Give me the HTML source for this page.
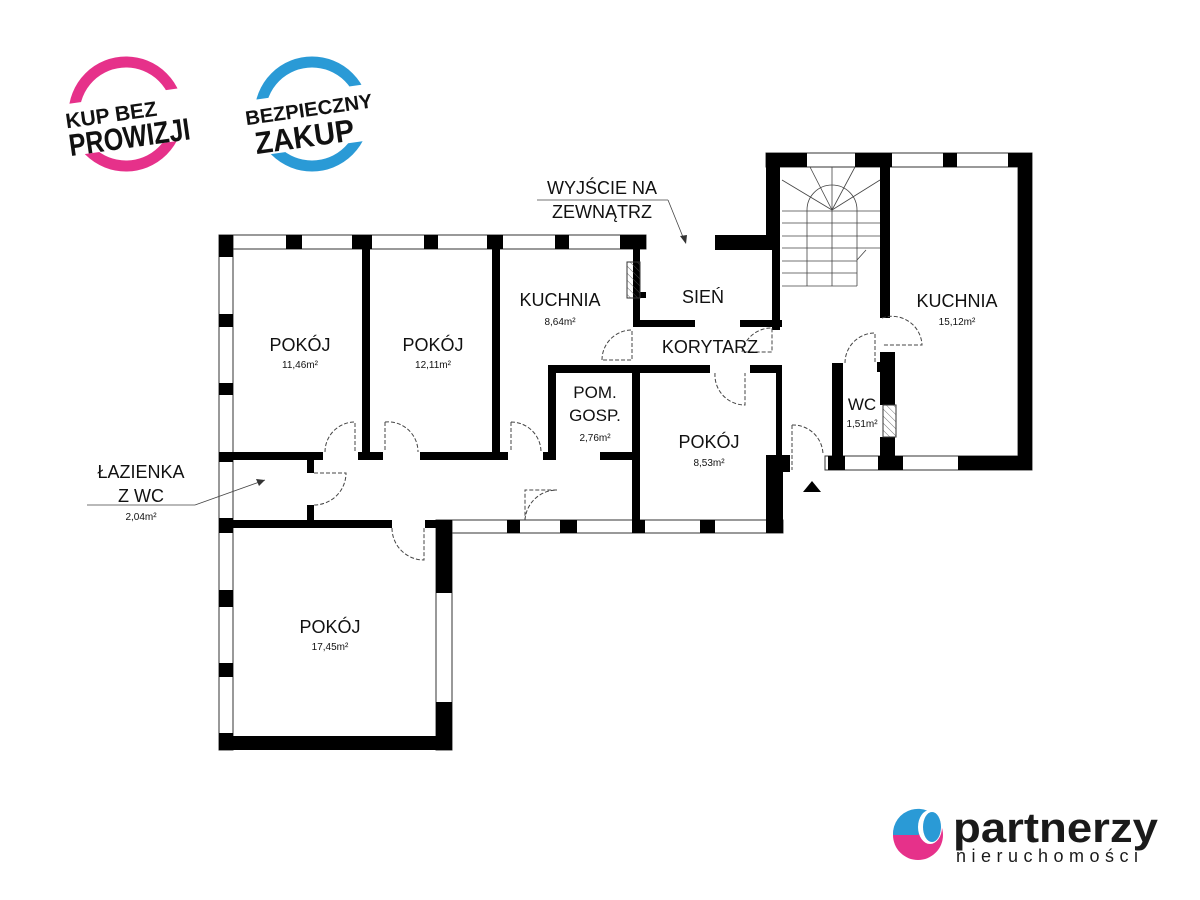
<!DOCTYPE html>
<html><head><meta charset="utf-8"><style>
html,body{margin:0;padding:0;background:#fff;width:1200px;height:900px;overflow:hidden}
text{font-family:"Liberation Sans",sans-serif;fill:#111}
</style></head><body>
<svg width="1200" height="900" viewBox="0 0 1200 900" xmlns="http://www.w3.org/2000/svg">
<defs><pattern id="h" width="5" height="5" patternUnits="userSpaceOnUse" patternTransform="rotate(-45)"><line x1="0" y1="0" x2="0" y2="5" stroke="#555" stroke-width="0.8"/></pattern></defs>
<!-- logos -->
<circle cx="126" cy="114" r="52" fill="none" stroke="#e6318a" stroke-width="11"/>
<rect x="62" y="96" width="130" height="52" fill="#fff" transform="rotate(-8 126 120)"/>
<g transform="rotate(-8 126 120)"><text x="66" y="120" font-size="21" font-weight="bold" textLength="92" lengthAdjust="spacingAndGlyphs" style="fill:#111">KUP BEZ</text><text x="66" y="148" font-size="31" font-weight="bold" textLength="122" lengthAdjust="spacingAndGlyphs" style="fill:#111">PROWIZJI</text></g>
<circle cx="312" cy="114" r="52" fill="none" stroke="#2a9ad6" stroke-width="11"/>
<rect x="244" y="92" width="136" height="56" fill="#fff" transform="rotate(-8 312 118)"/>
<g transform="rotate(-8 312 118)"><text x="246" y="116" font-size="20" font-weight="bold" textLength="128" lengthAdjust="spacingAndGlyphs" style="fill:#111">BEZPIECZNY</text><text x="252" y="146" font-size="31" font-weight="bold" textLength="100" lengthAdjust="spacingAndGlyphs" style="fill:#111">ZAKUP</text></g>

<!-- window/thin outlines -->
<g fill="none" stroke="#333" stroke-width="1">
<rect x="219" y="235" width="427" height="14"/>
<rect x="219" y="235" width="14" height="515"/>
<rect x="436" y="520" width="16" height="230"/>
<rect x="452" y="520" width="331" height="13"/>
<rect x="766" y="153" width="266" height="14"/>
<rect x="1018" y="153" width="14" height="317"/>
<rect x="825" y="456" width="207" height="14"/>
</g>
<g fill="#000">
<rect x="219" y="235" width="14" height="14"/><rect x="286" y="235" width="16" height="14"/><rect x="352" y="235" width="20" height="14"/><rect x="424" y="235" width="14" height="14"/><rect x="487" y="235" width="16" height="14"/><rect x="555" y="235" width="14" height="14"/><rect x="620" y="235" width="26" height="14"/>
<rect x="219" y="235" width="14" height="22"/><rect x="219" y="314" width="14" height="13"/><rect x="219" y="383" width="14" height="12"/><rect x="219" y="452" width="14" height="10"/><rect x="219" y="518" width="14" height="15"/><rect x="219" y="590" width="14" height="17"/><rect x="219" y="663" width="14" height="14"/><rect x="219" y="733" width="14" height="17"/>
<rect x="219" y="736" width="233" height="14"/>
<rect x="436" y="520" width="16" height="73"/><rect x="436" y="702" width="16" height="48"/>
<rect x="233" y="520" width="159" height="8"/><rect x="425" y="520" width="27" height="8"/><rect x="437" y="520" width="15" height="15"/>
<rect x="437" y="520" width="15" height="13"/><rect x="507" y="520" width="13" height="13"/><rect x="560" y="520" width="17" height="13"/><rect x="632" y="520" width="13" height="13"/><rect x="700" y="520" width="15" height="13"/><rect x="766" y="455" width="17" height="78"/>
<rect x="776" y="365" width="6" height="95"/><rect x="783" y="455" width="7" height="17"/>
<rect x="233" y="452" width="90" height="8"/><rect x="358" y="452" width="25" height="8"/><rect x="420" y="452" width="88" height="8"/><rect x="543" y="452" width="12" height="8"/><rect x="600" y="452" width="33" height="8"/>
<rect x="362" y="249" width="8" height="211"/><rect x="492" y="249" width="8" height="211"/>
<rect x="307" y="460" width="7" height="13"/><rect x="307" y="505" width="7" height="15"/>
<rect x="633" y="249" width="7" height="76"/><rect x="640" y="292" width="6" height="6"/>
<rect x="633" y="320" width="62" height="7"/><rect x="740" y="320" width="42" height="7"/>
<rect x="715" y="235" width="60" height="15"/><rect x="772" y="235" width="8" height="95"/>
<rect x="548" y="365" width="162" height="8"/><rect x="750" y="365" width="32" height="8"/>
<rect x="548" y="365" width="8" height="95"/><rect x="632" y="365" width="8" height="160"/>
<rect x="766" y="153" width="14" height="97"/><rect x="766" y="153" width="41" height="14"/><rect x="855" y="153" width="37" height="14"/><rect x="943" y="153" width="14" height="14"/><rect x="1008" y="153" width="24" height="14"/>
<rect x="1018" y="153" width="14" height="317"/>
<rect x="958" y="456" width="74" height="14"/><rect x="878" y="456" width="25" height="14"/><rect x="828" y="456" width="17" height="14"/>
<rect x="880" y="167" width="10" height="151"/>
<rect x="880" y="352" width="15" height="53"/><rect x="880" y="437" width="15" height="33"/><rect x="877" y="362" width="8" height="10"/>
<rect x="832" y="363" width="11" height="107"/>
</g>
<rect x="627" y="262" width="13" height="36" fill="url(#h)" stroke="#333" stroke-width="1"/>
<rect x="883" y="405" width="13" height="32" fill="url(#h)" stroke="#333" stroke-width="1"/>
<g fill="none" stroke="#444" stroke-width="1" stroke-dasharray="4,2">
<path d="M325 452 A30 30 0 0 1 355 422 L355 452"/>
<path d="M385 422 A30 30 0 0 1 418 452 M385 422 L385 452"/>
<path d="M511 422 A30 30 0 0 1 541 452 M511 422 L511 452"/>
<path d="M314 473 L346 473 A32 32 0 0 1 314 505"/>
<path d="M392 528 A32 32 0 0 0 424 560 L424 528"/>
<path d="M525 520 A32 32 0 0 1 557 490 L525 490 Z" />
<path d="M602 360 A30 30 0 0 1 632 330 L632 360 Z"/>
<path d="M715 373 A30 30 0 0 0 745 405 L745 373"/>
<path d="M742 352 A30 30 0 0 1 772 328 L772 352 Z"/>
<path d="M792 425 A30 30 0 0 1 823 455 M792 425 L792 470"/>
<path d="M845 363 A30 30 0 0 1 875 333 L875 363"/>
<path d="M882 318 A30 30 0 0 1 922 345 L882 345"/>
</g>
<g stroke="#444" stroke-width="0.8" fill="none">
<path d="M807 286 L807 210 A25 25 0 0 1 857 210 L857 286"/>
<line x1="832" y1="167" x2="832" y2="286"/>
<line x1="782" y1="211" x2="880" y2="211"/><line x1="782" y1="223" x2="880" y2="223"/><line x1="782" y1="236" x2="880" y2="236"/><line x1="782" y1="248" x2="880" y2="248"/><line x1="782" y1="261" x2="857" y2="261"/><line x1="782" y1="273" x2="857" y2="273"/><line x1="782" y1="286" x2="857" y2="286"/>
<line x1="832" y1="210" x2="782" y2="180"/><line x1="832" y1="210" x2="810" y2="167"/><line x1="832" y1="210" x2="855" y2="167"/><line x1="832" y1="210" x2="880" y2="180"/>
<line x1="857" y1="260" x2="866" y2="250"/>
<line x1="87" y1="505" x2="195" y2="505"/><line x1="195" y1="505" x2="265" y2="480"/>
<line x1="537" y1="200" x2="668" y2="200"/><line x1="668" y1="200" x2="685" y2="242"/>
</g>
<polygon points="265,480 256,479 259,486" fill="#333"/>
<polygon points="686,244 680,236 687,235" fill="#333"/>
<polygon points="803,492 812,481 821,492" fill="#000"/>
<g text-anchor="middle">
<text x="300" y="351" font-size="18">POKÓJ</text><text x="300" y="368" font-size="10">11,46m²</text>
<text x="433" y="351" font-size="18">POKÓJ</text><text x="433" y="368" font-size="10">12,11m²</text>
<text x="560" y="306" font-size="18">KUCHNIA</text><text x="560" y="325" font-size="10">8,64m²</text>
<text x="703" y="303" font-size="18">SIEŃ</text>
<text x="710" y="353" font-size="18">KORYTARZ</text>
<text x="595" y="398" font-size="17">POM.</text><text x="595" y="421" font-size="17">GOSP.</text><text x="595" y="441" font-size="10">2,76m²</text>
<text x="709" y="448" font-size="18">POKÓJ</text><text x="709" y="466" font-size="10">8,53m²</text>
<text x="957" y="307" font-size="18">KUCHNIA</text><text x="957" y="325" font-size="10">15,12m²</text>
<text x="862" y="410" font-size="17">WC</text><text x="862" y="427" font-size="10">1,51m²</text>
<text x="330" y="633" font-size="18">POKÓJ</text><text x="330" y="650" font-size="10">17,45m²</text>
<text x="141" y="478" font-size="18">ŁAZIENKA</text><text x="141" y="502" font-size="18">Z WC</text><text x="141" y="520" font-size="10">2,04m²</text>
<text x="602" y="194" font-size="18">WYJŚCIE NA</text><text x="602" y="218" font-size="18">ZEWNĄTRZ</text>
</g>
<circle cx="918" cy="835" r="25" fill="#e6318a"/>
<path d="M893 835 A25 25 0 0 1 940 822 L918 835 Z" fill="#2a9ad6"/>
<ellipse cx="930" cy="827" rx="12" ry="17" fill="#fff"/>
<ellipse cx="932" cy="827" rx="9" ry="15" fill="#2a9ad6"/>
<text x="953" y="842" font-size="42" font-weight="bold" textLength="205" lengthAdjust="spacingAndGlyphs" style="fill:#1a1a1a">partnerzy</text>
<text x="956" y="862" font-size="18" letter-spacing="5.5" style="fill:#1a1a1a">nieruchomości</text>
</svg>
</body></html>
